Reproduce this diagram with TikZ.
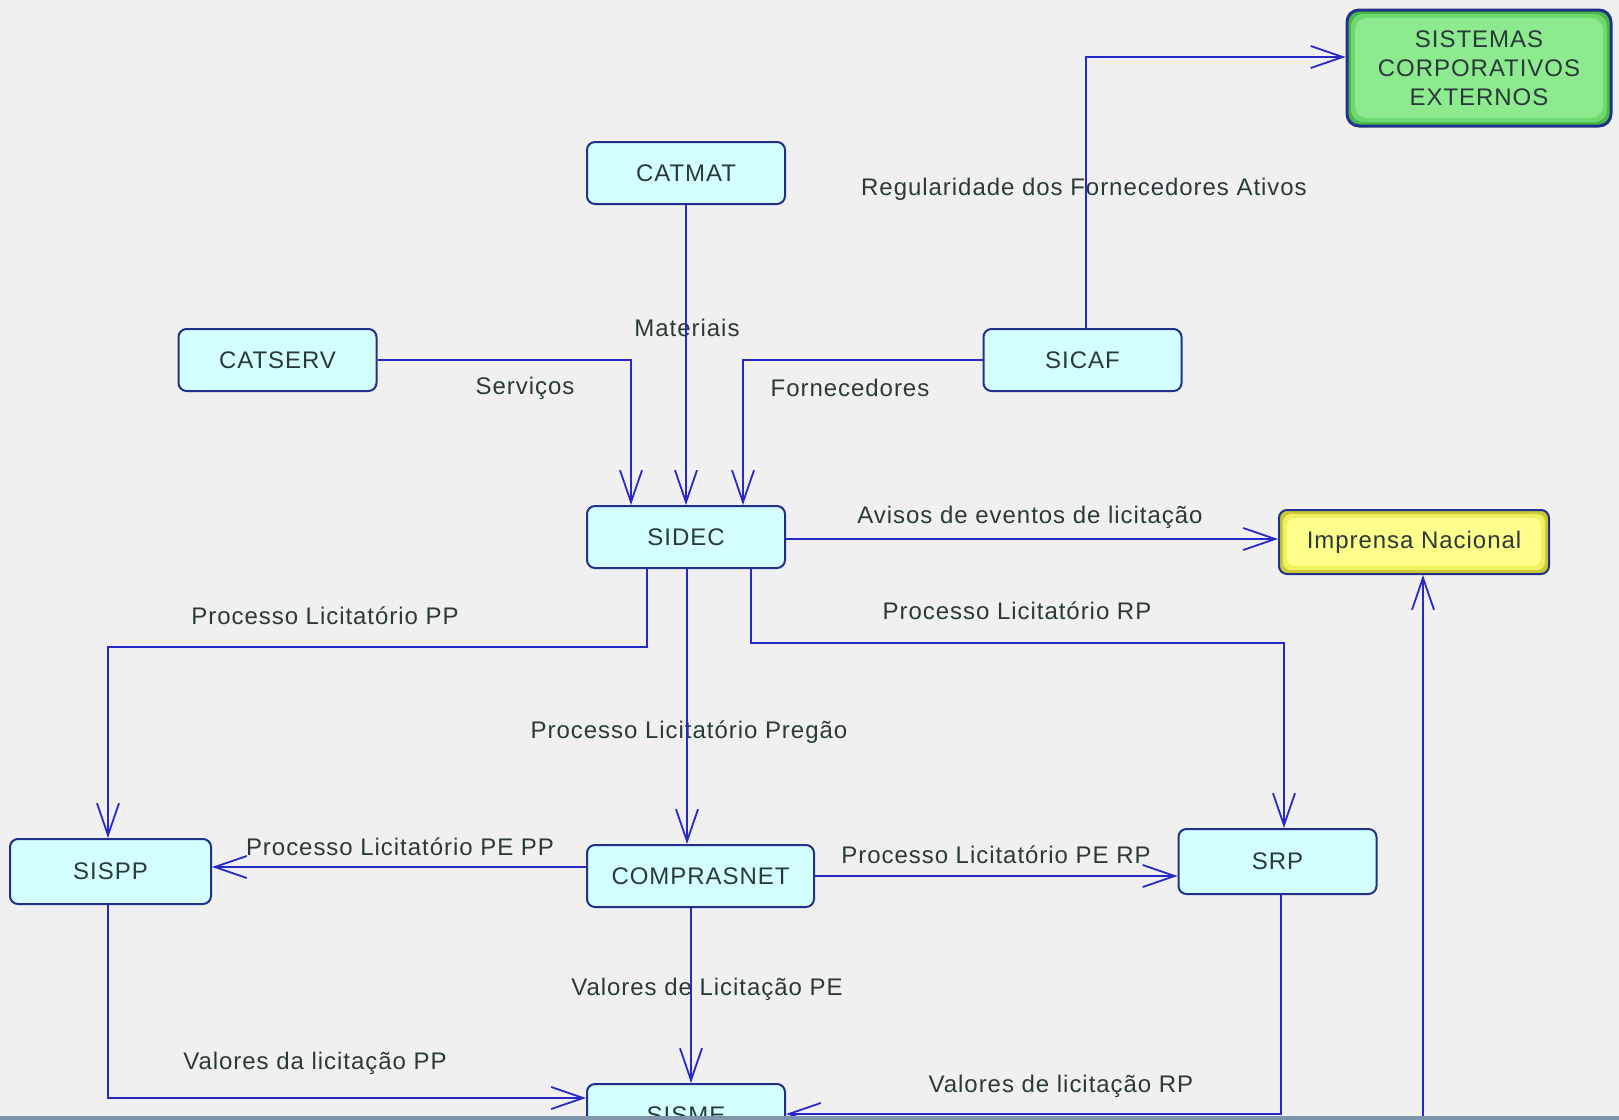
\documentclass[tikz,border=0pt]{standalone}
\usepackage{fontspec}
\setmainfont{Liberation Sans}[LetterSpace=4]
\usetikzlibrary{arrows.meta}
\definecolor{bg}{HTML}{F0F0F0}
\definecolor{nodefill}{HTML}{D4FFFF}
\definecolor{nodeborder}{HTML}{23308A}
\definecolor{wire}{HTML}{2828C8}
\definecolor{txt}{HTML}{2A3A3A}
\definecolor{gfill}{HTML}{8EEA8E}
\definecolor{gmid}{HTML}{70D870}
\definecolor{gedge}{HTML}{48B848}
\definecolor{yfill}{HTML}{FFFF8C}
\definecolor{ymid}{HTML}{F0F060}
\definecolor{yedge}{HTML}{C8C838}
\definecolor{band}{HTML}{7F95AC}
\begin{document}
\begin{tikzpicture}[x=0.5pt,y=-0.5pt,
  sys/.style={draw=nodeborder, line width=1pt, fill=nodefill, rounded corners=4pt,
    minimum width=99pt, minimum height=31pt, inner sep=0pt, text=txt,
    font=\fontsize{12}{14.5}\selectfont, align=center},
  glow/.style n args={3}{fill=#1, path picture={
    \fill[#2] ([shift={(4,4)}]path picture bounding box.north west) rectangle ([shift={(-4,-4)}]path picture bounding box.south east);
    \fill[#3] ([shift={(8,8)}]path picture bounding box.north west) rectangle ([shift={(-8,-8)}]path picture bounding box.south east);}},
  wirestyle/.style={draw=wire, line width=0.9pt, -{Straight Barb[length=16pt,width=11pt]}},
  lbl/.style={text=txt, font=\fontsize{12}{14}\selectfont, inner sep=1pt}]
\useasboundingbox (0,0) rectangle (1619,1120);
\clip (0,0) rectangle (1619,1120);
\fill[bg] (0,0) rectangle (1619,1120);

% nodes
\node[sys, glow={gedge}{gmid}{gfill}, line width=1.5pt, minimum width=132pt, minimum height=58pt, rounded corners=6pt]
  (sistemas) at (1479,68) {SISTEMAS\\CORPORATIVOS\\EXTERNOS};
\node[sys] (catmat) at (686,173) {CATMAT};
\node[sys] (catserv) at (277.5,360) {CATSERV};
\node[sys] (sicaf) at (1082.5,360) {SICAF};
\node[sys] (sidec) at (686,537) {SIDEC};
\node[sys, glow={yedge}{ymid}{yfill}, minimum width=135pt, minimum height=32pt]
  (imprensa) at (1414,542) {Imprensa Nacional};
\node[sys, minimum width=100.5pt, minimum height=32.5pt] (sispp) at (110.5,871.5) {SISPP};
\node[sys, minimum width=113.5pt] (comprasnet) at (700.5,876) {COMPRASNET};
\node[sys, minimum height=32.5pt] (srp) at (1277.5,861.5) {SRP};
\node[sys] (sisme) at (686,1115) {SISME};
\coordinate (offbottom) at (1423,1125);

% labels
\node[lbl] (l1) at (1084,189) {Regularidade dos Fornecedores Ativos};
\node[lbl] (l2) at (687,328) {Materiais};
\node[lbl] (l3) at (525,388) {Serviços};
\node[lbl] (l4) at (850,388) {Fornecedores};
\node[lbl] (l5) at (1030,517) {Avisos de eventos de licitação};
\node[lbl] (l6) at (325,616) {Processo Licitatório PP};
\node[lbl] (l7) at (1017,611) {Processo Licitatório RP};
\node[lbl] (l8) at (689,732) {Processo Licitatório Pregão};
\node[lbl] (l9) at (400,847) {Processo Licitatório PE PP};
\node[lbl] (l10) at (996,855) {Processo Licitatório PE RP};
\node[lbl] (l11) at (707,989) {Valores de Licitação PE};
\node[lbl] (l12) at (315,1063) {Valores da licitação PP};
\node[lbl] (l13) at (1061,1086) {Valores de licitação RP};

% connectors
\draw[wirestyle] (catmat.south) -- (sidec.north);
\draw[wirestyle] (catserv.east) -| (sidec.north -| 631,0);
\draw[wirestyle] (sicaf.west) -| (sidec.north -| 743,0);
\draw[wirestyle] (sicaf.north -| 1086,0) |- (sistemas.west |- 0,57);
\draw[wirestyle] (sidec.east |- 0,539) -- (imprensa.west |- 0,539);
\draw[wirestyle] (sidec.south -| 647,0) |- (108,647) -- (sispp.north -| 108,0);
\draw[wirestyle] (sidec.south -| 687,0) -- (comprasnet.north -| 687,0);
\draw[wirestyle] (sidec.south -| 751,0) |- (1284,643) -- (srp.north -| 1284,0);
\draw[wirestyle] (comprasnet.west |- 0,867) -- (sispp.east |- 0,867);
\draw[wirestyle] (comprasnet.east |- 0,876) -- (srp.west |- 0,876);
\draw[wirestyle] (comprasnet.south -| 691,0) -- (sisme.north -| 691,0);
\draw[wirestyle] (sispp.south -| 108,0) |- (sisme.west |- 0,1098);
\draw[wirestyle] (srp.south -| 1281,0) |- (sisme.east |- 0,1114);
\draw[wirestyle] (offbottom) -- (imprensa.south -| 1423,0);

\fill[band] (0,1116) rectangle (1619,1120);
\end{tikzpicture}
\end{document}
